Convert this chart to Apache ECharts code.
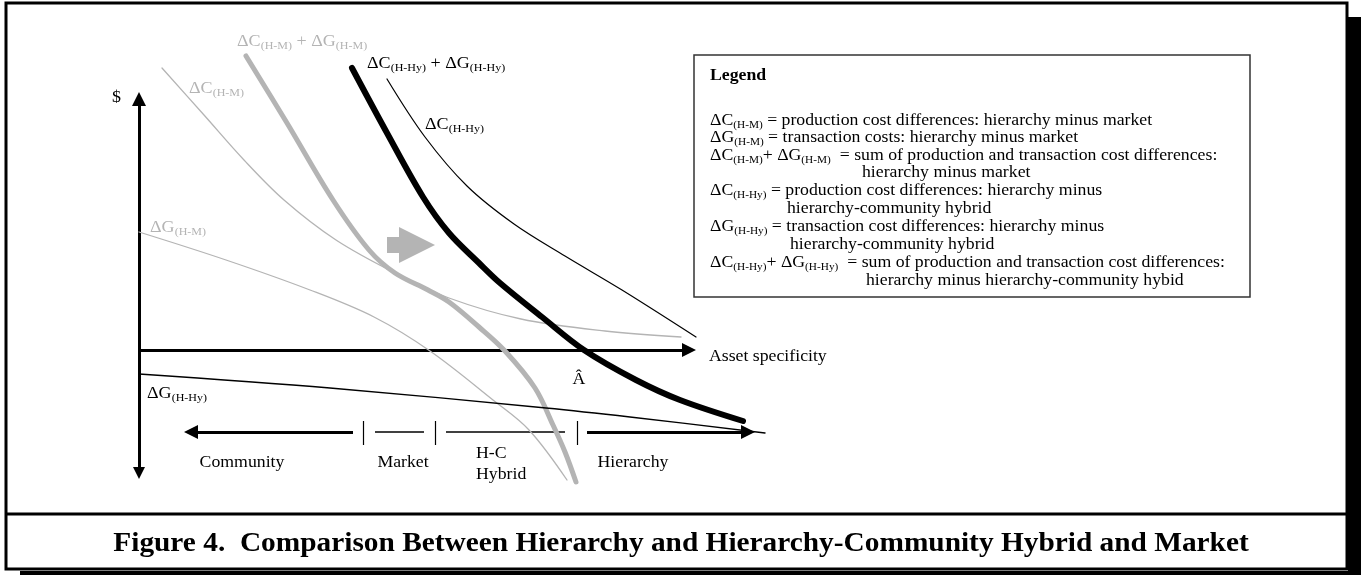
<!DOCTYPE html>
<html>
<head>
<meta charset="utf-8">
<title>Figure 4</title>
<script src="https://cdn.jsdelivr.net/npm/echarts@6/dist/echarts.min.js"></script>
<style>
html, body { margin: 0; padding: 0; background: #fff; }
#chart { width: 1361px; height: 575px; }
</style>
</head>
<body>
<div id="chart"></div>
<script>
var dcHM   = [[2.3,28.2],[6.5,23.5],[10.5,19],[14.5,15],[19.7,11],[25.6,7.7],[31,5.2],[38.2,3.1],[46.6,1.9],[54.2,1.3]];
var dgHM   = [[0,11.8],[8.7,9],[17.1,6],[23.5,3.3],[29.1,-0.1],[35.4,-5],[39,-8],[42.8,-13]];
var sumHM  = [[10.7,29.4],[14.8,22.7],[19.4,15],[23,10],[25.6,7.7],[28.9,6],[31,4.8],[34,2.3],[36.6,-0.1],[39.6,-3.8],[41.4,-7.5],[42.6,-10.2],[43.7,-13.2]];
var dcHHy  = [[24.8,27.1],[28.6,21.3],[32.8,16.4],[37.5,12.6],[42.6,9.4],[48.3,6],[55.7,1.3]];
var dgHHy  = [[0,-2.4],[19.1,-3.8],[40.7,-5.8],[49.1,-6.7],[62.6,-8.3]];
var sumHHy = [[21.3,28.2],[24.8,21.7],[28.4,15.3],[31,11.7],[34,8.7],[36.1,6.7],[40.3,3.3],[44.5,0],[49.7,-3],[54.1,-5],[60.4,-7.1]];

// axes drawn as arrows
var assetAxis = [[0,0],[55,0]];
var dollarAxis = [[0,-12.3],[0,25.1]];

// shift arrow (from market to hybrid)
var shiftArrow = [[27.2,10.5]];

// governance scale below the axis
var govY = -8.2;
var govArrows = [[21.4,5.2],[44.8,60.9]];
var govSegments = [[23.6,28.5],[30.7,42.6]];
var govTicks = [22.4,29.6,43.8];
var govTickSpan = [-7.1,-9.5];

var GRAY = '#b4b4b4';
var FONT = '"Liberation Serif","Times New Roman",serif';
var STRETCH = 1.075; // the figure's lettering is a bit wide

function curve(data, color, width) {
  return {
    type: 'line', data: data, smooth: 0.35,
    symbol: 'none', clip: false, silent: true,
    lineStyle: { color: color, width: width, cap: 'round' }
  };
}

function arrowLine(coordsList, symbol, width) {
  return {
    type: 'lines', coordinateSystem: 'cartesian2d', silent: true, clip: false,
    symbol: symbol, symbolSize: [12, 14],
    lineStyle: { color: '#000', width: width, opacity: 1 },
    data: coordsList.map(function (c) { return { coords: c }; })
  };
}

function govSegs(list) {
  return list.map(function (s) { return [[s[0], govY], [s[1], govY]]; });
}

// parts alternate: normal, subscript, normal, subscript ...
function rich(parts, size, sub, color, bold) {
  var txt = '';
  parts.forEach(function (p, i) { if (p !== '') txt += '{' + (i % 2 ? 's' : 'm') + '|' + p + '}'; });
  return {
    text: txt,
    rich: {
      m: { fontSize: size, fontFamily: FONT, fontWeight: bold ? 'bold' : 'normal', fill: color, color: color, lineHeight: size + 4 },
      s: { fontSize: sub, fontFamily: FONT, fill: color, color: color, lineHeight: sub, padding: [Math.round(size * 0.55), 0, 0, 0] }
    }
  };
}

function label(x, y, parts, opt) {
  opt = opt || {};
  var size = opt.size || 16.8, sub = opt.sub || 11.2, color = opt.color || '#000';
  var r = rich(parts, size, sub, color, opt.bold);
  return {
    type: 'text', x: x, y: y, scaleX: STRETCH, silent: true,
    style: {
      text: r.text, rich: r.rich, fill: color,
      fontSize: size, fontFamily: FONT, fontWeight: opt.bold ? 'bold' : 'normal',
      align: opt.align || 'left', textAlign: opt.align || 'left',
      verticalAlign: 'middle', textVerticalAlign: 'middle'
    }
  };
}

var legendLines = [
  [121, 710, ['ΔC', '(H-M)', ' = production cost differences: hierarchy minus market']],
  [138, 710, ['ΔG', '(H-M)', ' = transaction costs: hierarchy minus market']],
  [156, 710, ['ΔC', '(H-M)', '+ ΔG', '(H-M)', '  = sum of production and transaction cost differences:']],
  [173, 862, ['hierarchy minus market']],
  [191, 710, ['ΔC', '(H-Hy)', ' = production cost differences: hierarchy minus']],
  [209, 787, ['hierarchy-community hybrid']],
  [227, 710, ['ΔG', '(H-Hy)', ' = transaction cost differences: hierarchy minus']],
  [245, 790, ['hierarchy-community hybrid']],
  [263, 710, ['ΔC', '(H-Hy)', '+ ΔG', '(H-Hy)', '  = sum of production and transaction cost differences:']],
  [281, 866, ['hierarchy minus hierarchy-community hybid']]
];

var graphics = [
  // frame, shadow and caption divider
  { type: 'rect', shape: { x: 1348, y: 17, width: 13, height: 558 }, style: { fill: '#000' }, silent: true },
  { type: 'rect', shape: { x: 20, y: 571, width: 1341, height: 4 }, style: { fill: '#000' }, silent: true },
  { type: 'rect', shape: { x: 6, y: 3, width: 1341, height: 566 }, style: { fill: 'none', stroke: '#000', lineWidth: 3 }, silent: true },
  { type: 'line', shape: { x1: 6, y1: 514, x2: 1347, y2: 514 }, style: { stroke: '#000', lineWidth: 3 }, silent: true },
  label(681, 544, ['Figure 4.  Comparison Between Hierarchy and Hierarchy-Community Hybrid and Market'], { size: 27.3, bold: true, align: 'center' }),
  // legend box
  { type: 'rect', shape: { x: 694, y: 55, width: 556, height: 242 }, style: { fill: '#fff', stroke: '#333', lineWidth: 1.5 }, silent: true },
  label(710, 76, ['Legend'], { size: 16.5, bold: true }),
  // curve and axis labels
  label(112, 98, ['$']),
  label(237, 42, ['ΔC', '(H-M)', ' + ΔG', '(H-M)'], { color: GRAY }),
  label(189, 89, ['ΔC', '(H-M)'], { color: GRAY }),
  label(367, 64, ['ΔC', '(H-Hy)', ' + ΔG', '(H-Hy)']),
  label(425, 125, ['ΔC', '(H-Hy)']),
  label(150, 228, ['ΔG', '(H-M)'], { color: GRAY }),
  label(147, 394, ['ΔG', '(H-Hy)']),
  label(579, 380, ['Â'], { size: 16.5, align: 'center' }),
  label(709, 357, ['Asset specificity'], { size: 16.5 }),
  label(242, 463, ['Community'], { size: 16.5, align: 'center' }),
  label(403, 463, ['Market'], { size: 16.5, align: 'center' }),
  label(476, 454, ['H-C'], { size: 16.5 }),
  label(476, 475, ['Hybrid'], { size: 16.5 }),
  label(633, 463, ['Hierarchy'], { size: 16.5, align: 'center' })
];
legendLines.forEach(function (l) {
  graphics.push(label(l[1], l[0], l[2], { size: 16.5, sub: 10.5 }));
});

var chart = echarts.init(document.getElementById('chart'), null, { renderer: 'canvas' });
chart.setOption({
  backgroundColor: '#fff',
  animation: false,
  grid: { left: 139, top: 30, width: 640, height: 460, outerBoundsMode: 'none' },
  xAxis: { type: 'value', min: 0, max: 64, show: false },
  yAxis: { type: 'value', min: -14, max: 32, show: false },
  series: [
    curve(dcHM, GRAY, 1.3),
    curve(dgHM, GRAY, 1.3),
    curve(sumHM, GRAY, 5),
    curve(dcHHy, '#000', 1.2),
    curve(dgHHy, '#000', 1.4),
    curve(sumHHy, '#000', 6),
    arrowLine([assetAxis], ['none', 'triangle'], 3),
    arrowLine([dollarAxis], ['triangle', 'triangle'], 3),
    arrowLine(govSegs(govArrows), ['none', 'triangle'], 3),
    arrowLine(govSegs(govSegments), 'none', 1.6),
    arrowLine(govTicks.map(function (t) { return [[t, govTickSpan[0]], [t, govTickSpan[1]]]; }), 'none', 1.2),
    {
      type: 'scatter', data: shiftArrow, silent: true,
      symbol: 'path://M0,10 L12,10 L12,0 L48,18 L12,36 L12,26 L0,26 Z',
      symbolSize: [48, 36], itemStyle: { color: GRAY, opacity: 1 }
    }
  ],
  graphic: graphics
});
</script>
</body>
</html>
